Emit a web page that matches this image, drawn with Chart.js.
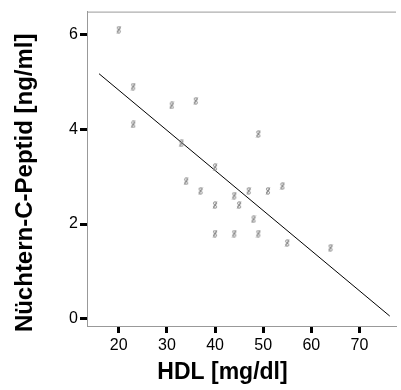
<!DOCTYPE html>
<html>
<head>
<meta charset="utf-8">
<script src="https://cdn.jsdelivr.net/npm/chart.js@4/dist/chart.umd.min.js"></script>
<style>
  html, body { margin: 0; padding: 0; background: #fff; overflow: hidden; }
  canvas { display: block; }
</style>
</head>
<body>
<canvas id="chart" width="401" height="390"></canvas>
<script>
const hdl = [20, 23, 23, 31, 36, 33, 49, 40, 34, 37, 44, 47, 51, 54, 40, 45, 48, 40, 44, 49, 55, 64];
const peptid = [6.1, 4.9, 4.1, 4.5, 4.6, 3.7, 3.9, 3.2, 2.9, 2.7, 2.6, 2.7, 2.7, 2.8, 2.4, 2.4, 2.1, 1.8, 1.8, 1.8, 1.6, 1.5];

// regression line
const fitX = [15.9, 76.3];
const fitY = [5.17, 0.06];

const xTicks = [20, 30, 40, 50, 60, 70];
const yTicks = [0, 2, 4, 6];

const xTitle = "HDL [mg/dl]";
const yTitle = "Nüchtern-C-Peptid [ng/ml]";

const FONT = "'Liberation Sans', Arial, sans-serif";

// tiny SPSS-like marker glyph
function makeMarker() {
  const c = document.createElement("canvas");
  c.width = 6;
  c.height = 8;
  const g = c.getContext("2d");
  g.strokeStyle = "#8a8a8a";
  g.lineWidth = 1;
  g.beginPath();
  g.ellipse(3, 2.2, 1.6, 1.4, 0, 0, Math.PI * 2);
  g.stroke();
  g.beginPath();
  g.ellipse(3, 5.8, 1.6, 1.4, 0, 0, Math.PI * 2);
  g.stroke();
  g.beginPath();
  g.moveTo(4.8, 0.5);
  g.lineTo(1.2, 7.5);
  g.stroke();
  return c;
}
const marker = makeMarker();

const framePlugin = {
  id: "frame",
  beforeDatasetsDraw(chart) {
    const { ctx, chartArea: a } = chart;
    ctx.save();
    ctx.strokeStyle = "#999";
    ctx.lineWidth = 1;
    ctx.beginPath();
    ctx.moveTo(a.left, a.top + 0.5);
    ctx.lineTo(a.right, a.top + 0.5);
    ctx.stroke();
    ctx.restore();
  }
};

const titlesPlugin = {
  id: "axisTitles",
  afterDraw(chart) {
    const { ctx, chartArea: a } = chart;
    ctx.save();
    ctx.fillStyle = "#000";
    ctx.textAlign = "center";
    ctx.textBaseline = "middle";
    ctx.font = "bold 23px " + FONT;
    ctx.fillText(xTitle, (a.left + a.right) / 2 - 19, 373);
    ctx.font = "bold 24px " + FONT;
    ctx.translate(25, (a.top + a.bottom) / 2 + 14);
    ctx.rotate(-Math.PI / 2);
    ctx.fillText(yTitle, 0, 0);
    ctx.restore();
  }
};

const tickFont = { family: FONT, size: 16 };

new Chart(document.getElementById("chart"), {
  type: "scatter",
  data: {
    datasets: [
      {
        label: "Werte",
        data: hdl.map((x, i) => ({ x, y: peptid[i] })),
        pointStyle: marker,
        pointRadius: 4
      },
      {
        type: "line",
        label: "Regression",
        data: fitX.map((x, i) => ({ x, y: fitY[i] })),
        borderColor: "#000",
        borderWidth: 1,
        pointRadius: 0,
        fill: false
      }
    ]
  },
  options: {
    responsive: false,
    animation: false,
    layout: { padding: { top: 10, right: 0, left: 0, bottom: 0 } },
    plugins: {
      legend: { display: false },
      tooltip: { enabled: false }
    },
    scales: {
      x: {
        type: "linear",
        min: 13.4,
        max: 77.6,
        afterBuildTicks: s => { s.ticks = xTicks.map(v => ({ value: v })); },
        afterFit: s => { s.height = 64; },
        grid: { drawOnChartArea: false, tickLength: 7, tickWidth: 3, tickColor: "#000" },
        border: { color: "#999", width: 1 },
        ticks: { font: tickFont, color: "#000", padding: 3, maxRotation: 0 }
      },
      y: {
        min: -0.15,
        max: 6.48,
        afterBuildTicks: s => { s.ticks = yTicks.map(v => ({ value: v })); },
        afterFit: s => { s.width = 87; },
        grid: { drawOnChartArea: false, tickLength: 7, tickWidth: 3, tickColor: "#000" },
        border: { color: "#999", width: 1 },
        ticks: { font: tickFont, color: "#000", padding: 2 }
      }
    }
  },
  plugins: [framePlugin, titlesPlugin]
});
</script>
</body>
</html>
